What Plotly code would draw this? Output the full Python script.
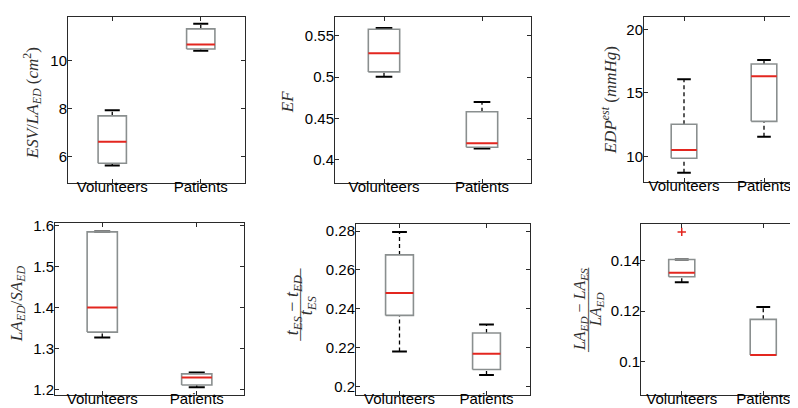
import plotly.graph_objects as go

# ---------------- data (five-number summaries: low whisker, q1, median, q3, high whisker)
categories = ["Volunteers", "Patients"]

esv_volunteers = [5.62, 5.71, 6.61, 7.69, 7.92]
esv_patients = [10.41, 10.48, 10.67, 11.32, 11.54]

ef_volunteers = [0.5004, 0.5063, 0.529, 0.558, 0.5595]
ef_patients = [0.4134, 0.415, 0.4198, 0.4579, 0.4698]

edp_volunteers = [8.71, 9.85, 10.49, 12.53, 16.08]
edp_patients = [11.55, 12.76, 16.31, 17.29, 17.6]

lasa_volunteers = [1.3267, 1.340, 1.400, 1.584, 1.585]
lasa_patients = [1.2056, 1.2111, 1.2295, 1.2383, 1.2416]

tfrac_volunteers = [0.2181, 0.2366, 0.2481, 0.2677, 0.2795]
tfrac_patients = [0.2060, 0.2088, 0.2169, 0.2276, 0.2319]

lafrac_volunteers = [0.1314, 0.1336, 0.1352, 0.1404, 0.1404]
lafrac_patients = [0.1027, 0.1027, 0.1027, 0.1168, 0.1217]

lafrac_outliers_volunteers = [0.1513]

# tick labels
esv_ticks = [6, 8, 10]
esv_ticktext = ["6", "8", "10"]
ef_ticks = [0.4, 0.45, 0.5, 0.55]
ef_ticktext = ["0.4", "0.45", "0.5", "0.55"]
edp_ticks = [10, 15, 20]
edp_ticktext = ["10", "15", "20"]
lasa_ticks = [1.2, 1.3, 1.4, 1.5, 1.6]
lasa_ticktext = ["1.2", "1.3", "1.4", "1.5", "1.6"]
tfrac_ticks = [0.2, 0.22, 0.24, 0.26, 0.28]
tfrac_ticktext = ["0.2", "0.22", "0.24", "0.26", "0.28"]
lafrac_ticks = [0.1, 0.12, 0.14]
lafrac_ticktext = ["0.1", "0.12", "0.14"]

# ---------------- styling
W, H = 798, 408
BOX_HALF = 0.16
CAP_HALF = 0.085
BOX_COLOR = "#8a8f8f"
MED_COLOR = "#e3261f"
AXIS_COLOR = "#2a2a2a"
TICK_FONT = dict(family="Liberation Sans, Arial, sans-serif", size=15, color="black")
LABEL_COLOR = "#303030"
LABEL_FAMILY = "Liberation Serif, Times New Roman, serif"

panels = [
    # (stats per group, outliers per group, yrange, ticks, ticktext, xdom px, ydom px)
    ([esv_volunteers, esv_patients], [[], []], [4.9, 11.82], esv_ticks, esv_ticktext, (60, 237), (3, 172)),
    ([ef_volunteers, ef_patients], [[], []], [0.372, 0.573], ef_ticks, ef_ticktext, (327, 523), (3, 172)),
    ([edp_volunteers, edp_patients], [[], []], [8.0, 21.0], edp_ticks, edp_ticktext, (636, 796), (3, 171)),
    ([lasa_volunteers, lasa_patients], [[], []], [1.186, 1.606], lasa_ticks, lasa_ticktext, (47, 236), (213, 389)),
    ([tfrac_volunteers, tfrac_patients], [[], []], [0.1955, 0.2837], tfrac_ticks, tfrac_ticktext, (348, 522), (214, 389)),
    ([lafrac_volunteers, lafrac_patients], [lafrac_outliers_volunteers, []], [0.0868, 0.1545], lafrac_ticks, lafrac_ticktext, (633, 796), (214, 389)),
]

# (text, x px, y px, font size)
ylabel_parts = [
    ("<i>ESV</i>/<i>LA</i><sub><i>ED</i></sub> (<i>cm</i><sup>2</sup>)", 24, 91, 17),
    ("<i>EF</i>", 279, 90, 17),
    ("<i>EDP</i><sup><i>est</i></sup> (<i>mmHg</i>)", 601, 88, 17),
    ("<i>LA</i><sub><i>ED</i></sub>/<i>SA</i><sub><i>ED</i></sub>", 10, 296, 17),
    # fraction (t_ES - t_ED) / t_ES
    ("<i>t</i><sub><i>ES</i></sub> − <i>t</i><sub><i>ED</i></sub>", 285, 297, 18),
    ("<i>t</i><sub><i>ES</i></sub>", 299, 297, 18),
    # fraction (LA_ED - LA_ES) / LA_ED
    ("<i>LA</i><sub><i>ED</i></sub> − <i>LA</i><sub><i>ES</i></sub>", 572, 302, 16),
    ("<i>LA</i><sub><i>ED</i></sub>", 588, 302, 16),
]
# fraction bars (text rule made of box-drawing characters): (n chars, x px, y px)
fraction_bars = [(12, 292.5, 297), (14, 580, 302)]

fig = go.Figure()
layout = dict(width=W, height=H, margin=dict(l=0, r=0, t=0, b=0),
              paper_bgcolor="white", plot_bgcolor="white", showlegend=False,
              hovermode=False)
annotations = []

for k, (stats, outs, yr, tv, tt, xd, yd) in enumerate(panels):
    n = k + 1
    xa = "x" if n == 1 else f"x{n}"
    ya = "y" if n == 1 else f"y{n}"
    for g, s in enumerate(stats):
        pos = g + 1
        lo, q1, med, q3, hi = s
        # whiskers (dashed)
        fig.add_trace(go.Scatter(x=[pos, pos], y=[q3, hi], mode="lines", xaxis=xa, yaxis=ya,
                                 line=dict(color="black", width=1.3, dash="4px,3px")))
        fig.add_trace(go.Scatter(x=[pos, pos], y=[lo, q1], mode="lines", xaxis=xa, yaxis=ya,
                                 line=dict(color="black", width=1.3, dash="4px,3px")))
        # caps
        for v in (lo, hi):
            fig.add_trace(go.Scatter(x=[pos - CAP_HALF, pos + CAP_HALF], y=[v, v], mode="lines",
                                     xaxis=xa, yaxis=ya, line=dict(color="black", width=2)))
        # box
        fig.add_trace(go.Scatter(x=[pos - BOX_HALF, pos + BOX_HALF, pos + BOX_HALF, pos - BOX_HALF, pos - BOX_HALF],
                                 y=[q1, q1, q3, q3, q1], mode="lines", xaxis=xa, yaxis=ya,
                                 line=dict(color=BOX_COLOR, width=1.6)))
        # median
        fig.add_trace(go.Scatter(x=[pos - BOX_HALF, pos + BOX_HALF], y=[med, med], mode="lines",
                                 xaxis=xa, yaxis=ya, line=dict(color=MED_COLOR, width=2)))
        # outliers
        if outs[g]:
            fig.add_trace(go.Scatter(x=[pos] * len(outs[g]), y=outs[g], mode="markers", xaxis=xa, yaxis=ya,
                                     marker=dict(symbol="cross-thin", size=6, line=dict(color=MED_COLOR, width=1.5))))
    common = dict(showline=True, linecolor=AXIS_COLOR, linewidth=1, mirror="allticks",
                  ticks="inside", ticklen=4, tickcolor=AXIS_COLOR, tickwidth=1,
                  showgrid=False, zeroline=False, tickfont=TICK_FONT, fixedrange=True)
    layout["xaxis" if n == 1 else f"xaxis{n}"] = dict(
        domain=[xd[0] / W, xd[1] / W], range=[0.5, 2.5], tickvals=[1, 2], ticktext=categories,
        anchor=ya, ticklabelstandoff=-10, **common)
    layout["yaxis" if n == 1 else f"yaxis{n}"] = dict(
        domain=[1 - yd[1] / H, 1 - yd[0] / H], range=yr, tickvals=tv, ticktext=tt,
        anchor=xa, ticklabelstandoff=-3, **common)

for txt, lx, ly, fs in ylabel_parts:
    annotations.append(dict(text=txt, x=lx / W, y=1 - ly / H, xref="paper", yref="paper",
                            textangle=-90, showarrow=False,
                            font=dict(family=LABEL_FAMILY, size=fs, color=LABEL_COLOR),
                            align="center", xanchor="center", yanchor="middle"))
for nch, lx, ly in fraction_bars:
    annotations.append(dict(text="\u2500" * nch, x=lx / W, y=1 - ly / H, xref="paper", yref="paper",
                            textangle=-90, showarrow=False,
                            font=dict(family="DejaVu Sans Mono", size=10, color=LABEL_COLOR),
                            xanchor="center", yanchor="middle"))

layout["annotations"] = annotations
fig.update_layout(**layout)
fig.write_html("out.html")
